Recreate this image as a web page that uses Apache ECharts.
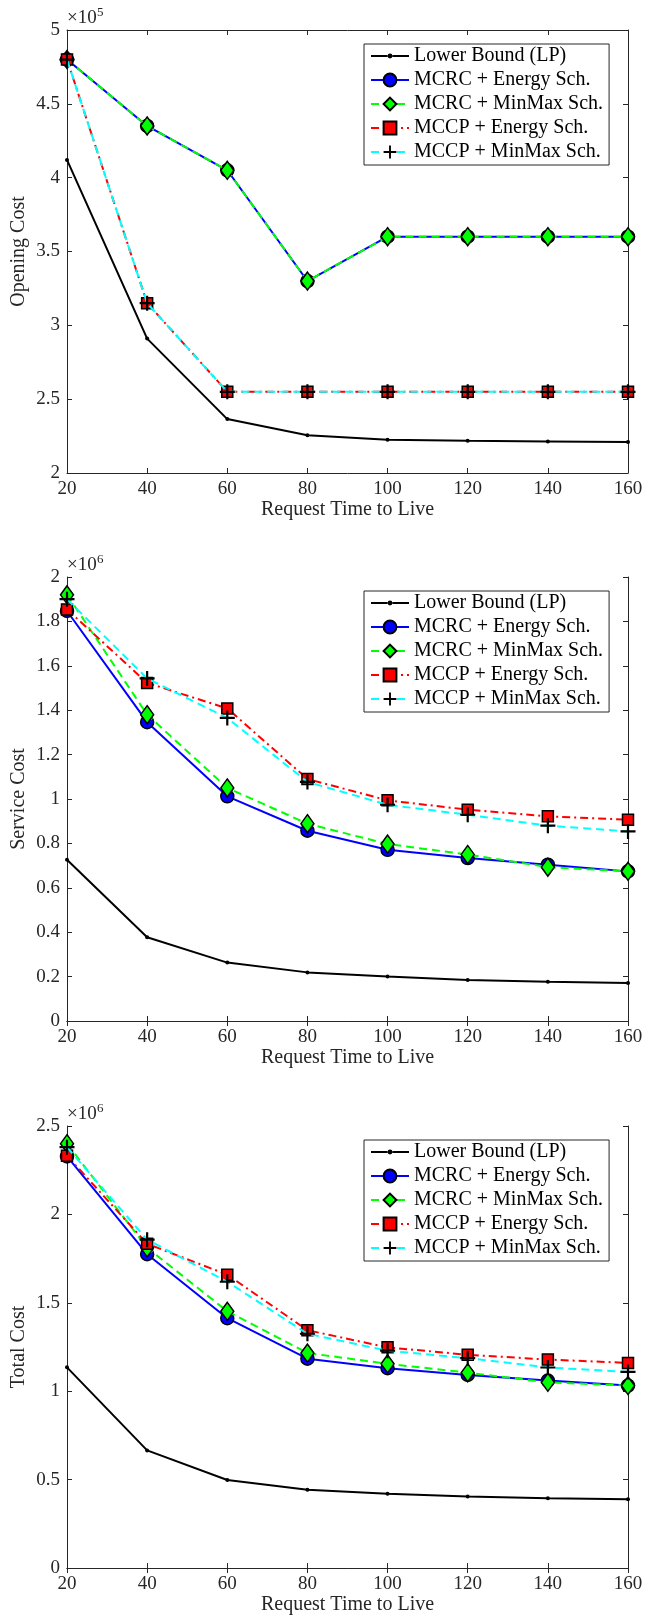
<!DOCTYPE html>
<html>
<head>
<meta charset="utf-8">
<script src="https://cdn.jsdelivr.net/npm/echarts@6/dist/echarts.min.js"></script>
<style>
html,body{margin:0;padding:0;background:#fff;}
#main{width:655px;height:1617px;}
</style>
</head>
<body>
<div id="main"></div>
<script>
// Request time to live (x values)
const ttl = [20, 40, 60, 80, 100, 120, 140, 160];

// Opening cost (x 1e5)
const lbOpen         = [4.12, 2.91, 2.365, 2.255, 2.225, 2.218, 2.214, 2.21];
const mcrcEnergyOpen = [4.80, 4.35, 4.05, 3.30, 3.60, 3.60, 3.60, 3.60];
const mcrcMinMaxOpen = [4.80, 4.35, 4.05, 3.30, 3.60, 3.60, 3.60, 3.60];
const mccpEnergyOpen = [4.80, 3.15, 2.55, 2.55, 2.55, 2.55, 2.55, 2.55];
const mccpMinMaxOpen = [4.80, 3.15, 2.55, 2.55, 2.55, 2.55, 2.55, 2.55];

// Service cost (x 1e6)
const lbServ         = [0.726, 0.377, 0.263, 0.219, 0.200, 0.185, 0.177, 0.171];
const mcrcEnergyServ = [1.847, 1.346, 1.012, 0.857, 0.771, 0.734, 0.704, 0.674];
const mcrcMinMaxServ = [1.920, 1.380, 1.050, 0.889, 0.797, 0.750, 0.693, 0.674];
const mccpEnergyServ = [1.854, 1.523, 1.408, 1.090, 0.994, 0.952, 0.922, 0.907];
const mccpMinMaxServ = [1.900, 1.543, 1.365, 1.077, 0.974, 0.929, 0.880, 0.854];

// Total cost (x 1e6)
const lbTotal         = [1.135, 0.665, 0.498, 0.442, 0.420, 0.405, 0.395, 0.389];
const mcrcEnergyTotal = [2.328, 1.775, 1.413, 1.184, 1.130, 1.092, 1.060, 1.032];
const mcrcMinMaxTotal = [2.400, 1.811, 1.452, 1.216, 1.155, 1.105, 1.050, 1.032];
const mccpEnergyTotal = [2.332, 1.834, 1.659, 1.345, 1.248, 1.206, 1.179, 1.160];
const mccpMinMaxTotal = [2.380, 1.857, 1.619, 1.325, 1.229, 1.187, 1.134, 1.109];

const seriesNames = ['Lower Bound (LP)', 'MCRC + Energy Sch.', 'MCRC + MinMax Sch.', 'MCCP + Energy Sch.', 'MCCP + MinMax Sch.'];
const yTitles = ['Opening Cost', 'Service Cost', 'Total Cost'];
const xTitle = 'Request Time to Live';
const exponents = ['5', '6', '6'];
const yRanges = [[2, 5, 0.5], [0, 2, 0.2], [0, 2.5, 0.5]];

const panels = [
  [lbOpen, mcrcEnergyOpen, mcrcMinMaxOpen, mccpEnergyOpen, mccpMinMaxOpen],
  [lbServ, mcrcEnergyServ, mcrcMinMaxServ, mccpEnergyServ, mccpMinMaxServ],
  [lbTotal, mcrcEnergyTotal, mcrcMinMaxTotal, mccpEnergyTotal, mccpMinMaxTotal]
];

const FONT = '"Liberation Serif", "Times New Roman", serif';
const AX = '#262626';
const gridTops = [30, 577, 1126];
const gridHeights = [443, 444, 442];
const GL = 67, GW = 561;

const styles = [
  { color: '#000000', type: 'solid', symbol: 'circle', size: 4, fill: '#000000', border: 0 },
  { color: '#0000ff', type: 'solid', symbol: 'circle', size: 13, fill: '#0000ff', border: 1.5 },
  { color: '#00ff00', type: [8, 5], symbol: 'diamond', size: [13, 18], fill: '#00ff00', border: 1.5 },
  { color: '#ff0000', type: [8, 4, 2, 4], symbol: 'rect', size: 11, fill: '#ff0000', border: 1.5 },
  { color: '#00ffff', type: [8, 5], symbol: 'path://M6.4,0H8.6V15H6.4ZM0,6.4H15V8.6H0Z', size: 15, fill: '#000000', border: 0 }
];

// legend icon for the lower bound: line with a small dot
const lbLegendIcon = 'path://M0,7H17V9H0Z M21,7H38V9H21Z M16.6,8a2.4,2.4 0 1,0 4.8,0a2.4,2.4 0 1,0 -4.8,0Z';

const grids = [], xAxes = [], yAxes = [], series = [], legends = [], graphics = [];

panels.forEach((panel, p) => {
  grids.push({ left: GL, width: GW, top: gridTops[p], height: gridHeights[p], containLabel: false });
  const axisCommon = {
    axisLine: { show: true, lineStyle: { color: AX, width: 1 } },
    axisTick: { show: true, inside: true, length: 5, lineStyle: { color: AX, width: 1 } },
    splitLine: { show: false }
  };
  xAxes.push(Object.assign({
    type: 'value', gridIndex: p, position: 'bottom', min: 20, max: 160, interval: 20,
    axisLabel: { color: AX, fontFamily: FONT, fontSize: 19, margin: 7 },
    name: xTitle, nameLocation: 'middle', nameGap: 27, nameMoveOverlap: false,
    nameTextStyle: { color: AX, fontFamily: FONT, fontSize: 20 }
  }, axisCommon));
  xAxes.push(Object.assign({
    type: 'value', gridIndex: p, position: 'top', min: 20, max: 160, interval: 20,
    axisLabel: { show: false }
  }, axisCommon));
  const [ymin, ymax, yint] = yRanges[p];
  yAxes.push(Object.assign({
    type: 'value', gridIndex: p, position: 'left', min: ymin, max: ymax, interval: yint,
    axisLabel: { color: AX, fontFamily: FONT, fontSize: 19, margin: 7 },
    name: yTitles[p], nameLocation: 'middle', nameGap: 38, nameMoveOverlap: false,
    nameTextStyle: { color: AX, fontFamily: FONT, fontSize: 20 }
  }, axisCommon));
  yAxes.push(Object.assign({
    type: 'value', gridIndex: p, position: 'right', min: ymin, max: ymax, interval: yint,
    axisLabel: { show: false }
  }, axisCommon));

  panel.forEach((vals, s) => {
    const st = styles[s];
    series.push({
      name: seriesNames[s],
      type: 'line',
      xAxisIndex: p * 2,
      yAxisIndex: p * 2,
      data: ttl.map((x, i) => [x, vals[i]]),
      symbol: st.symbol,
      symbolSize: st.size,
      showSymbol: true,
      lineStyle: { color: st.color, width: 2, type: st.type },
      itemStyle: { color: st.fill, borderColor: '#000000', borderWidth: st.border },
      emphasis: { disabled: true },
      z: 2 + s
    });
  });

  legends.push({
    show: true,
    data: seriesNames.map((n, i) => i === 0 ? { name: n, icon: lbLegendIcon } : { name: n }),
    orient: 'vertical',
    left: 364,
    top: gridTops[p] + 14,
    itemWidth: 38,
    itemHeight: 16,
    itemGap: 4,
    padding: [2, 6, 3, 6],
    backgroundColor: '#ffffff',
    borderColor: AX,
    borderWidth: 1,
    borderRadius: 0,
    selectedMode: false,
    textStyle: { color: '#000000', fontFamily: FONT, fontSize: 20 }
  });

  graphics.push({
    type: 'text', x: 67, y: gridTops[p] - 21,
    style: { text: '×10', font: '19px ' + FONT, fill: AX, align: 'left', verticalAlign: 'top' }
  });
  graphics.push({
    type: 'text', x: 97, y: gridTops[p] - 24,
    style: { text: exponents[p], font: '13px ' + FONT, fill: AX, align: 'left', verticalAlign: 'top' }
  });
});

const chart = echarts.init(document.getElementById('main'));
chart.setOption({
  animation: false,
  backgroundColor: '#ffffff',
  grid: grids,
  xAxis: xAxes,
  yAxis: yAxes,
  legend: legends,
  graphic: graphics,
  series: series
});
</script>
</body>
</html>
